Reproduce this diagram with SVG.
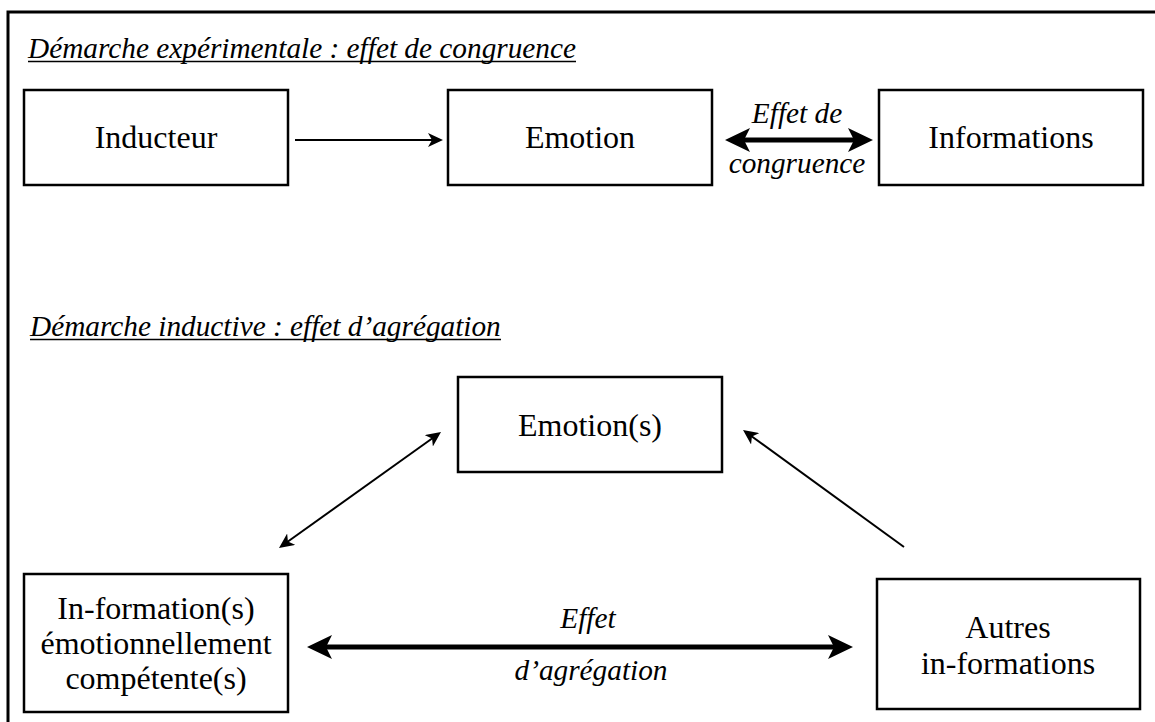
<svg xmlns="http://www.w3.org/2000/svg" width="1155" height="722" viewBox="0 0 1155 722">
<style>
  text { font-family: "Liberation Serif", "Times New Roman", serif; fill: #000; }
  .box { fill: #fff; stroke: #000; stroke-width: 2.5; }
  .lbl { font-size: 32px; text-anchor: middle; }
  .it { font-size: 29.3px; font-style: italic; }
  .mid { text-anchor: middle; }
  .thin { stroke: #000; stroke-width: 2; fill: none; }
  .thick { stroke: #000; stroke-width: 5; fill: none; }
  .ul { stroke: #000; stroke-width: 1.5; }
</style>
<defs>
  <marker id="ah" viewBox="0 0 15 14" refX="7" refY="7" markerWidth="15" markerHeight="14" markerUnits="userSpaceOnUse" orient="auto-start-reverse">
    <path d="M0,0 L15,7 L0,14 L4,7 Z" fill="#000"/>
  </marker>
  <marker id="ahT" viewBox="0 0 25 24" refX="13" refY="12" markerWidth="25" markerHeight="24" markerUnits="userSpaceOnUse" orient="auto-start-reverse">
    <path d="M0,0 L25,12 L0,24 L6,12 Z" fill="#000"/>
  </marker>
</defs>
<rect x="0" y="0" width="1155" height="722" fill="#fff"/>
<rect x="8" y="12" width="1200" height="800" fill="none" stroke="#000" stroke-width="3"/>

<g id="title1">
  <text class="it" x="28" y="58">Démarche expérimentale : effet de congruence</text>
  <line class="ul" x1="28" y1="61.5" x2="576" y2="61.5"/>
</g>
<g id="title2">
  <text class="it" x="30" y="336">Démarche inductive : effet d’agrégation</text>
  <line class="ul" x1="30" y1="339.5" x2="501" y2="339.5"/>
</g>

<g id="inducteur">
  <rect class="box" x="24" y="90" width="264" height="95"/>
  <text class="lbl" x="156" y="148">Inducteur</text>
</g>
<g id="emotion">
  <rect class="box" x="448" y="90" width="264" height="95"/>
  <text class="lbl" x="580" y="148">Emotion</text>
</g>
<g id="informations">
  <rect class="box" x="879" y="90" width="264" height="95"/>
  <text class="lbl" x="1011" y="148">Informations</text>
</g>
<g id="emotions">
  <rect class="box" x="458" y="377" width="264" height="95"/>
  <text class="lbl" x="590" y="436">Emotion(s)</text>
</g>
<g id="in-formations-emo">
  <rect class="box" x="24" y="574" width="264" height="138"/>
  <text class="lbl" x="156" y="619">In-formation(s)</text>
  <text class="lbl" x="156" y="654">émotionnellement</text>
  <text class="lbl" x="156" y="689">compétente(s)</text>
</g>
<g id="autres">
  <rect class="box" x="877" y="579" width="263" height="130"/>
  <text class="lbl" x="1008" y="638">Autres</text>
  <text class="lbl" x="1008" y="674">in-formations</text>
</g>

<g id="connectors">
  <line class="thin" x1="295" y1="140" x2="435" y2="140" marker-end="url(#ah)"/>
  <line class="thick" x1="737" y1="140" x2="861" y2="140" marker-start="url(#ahT)" marker-end="url(#ahT)"/>
  <text class="it mid" x="797" y="123">Effet de</text>
  <text class="it mid" x="797" y="173">congruence</text>

  <line class="thin" x1="285.5" y1="543.3" x2="434.5" y2="436.7" marker-start="url(#ah)" marker-end="url(#ah)"/>
  <line class="thin" x1="904" y1="547" x2="749.5" y2="434.7" marker-end="url(#ah)"/>

  <line class="thick" x1="319" y1="647" x2="841" y2="647" marker-start="url(#ahT)" marker-end="url(#ahT)"/>
  <text class="it mid" x="588" y="628">Effet</text>
  <text class="it mid" x="591" y="680">d’agrégation</text>
</g>
</svg>
